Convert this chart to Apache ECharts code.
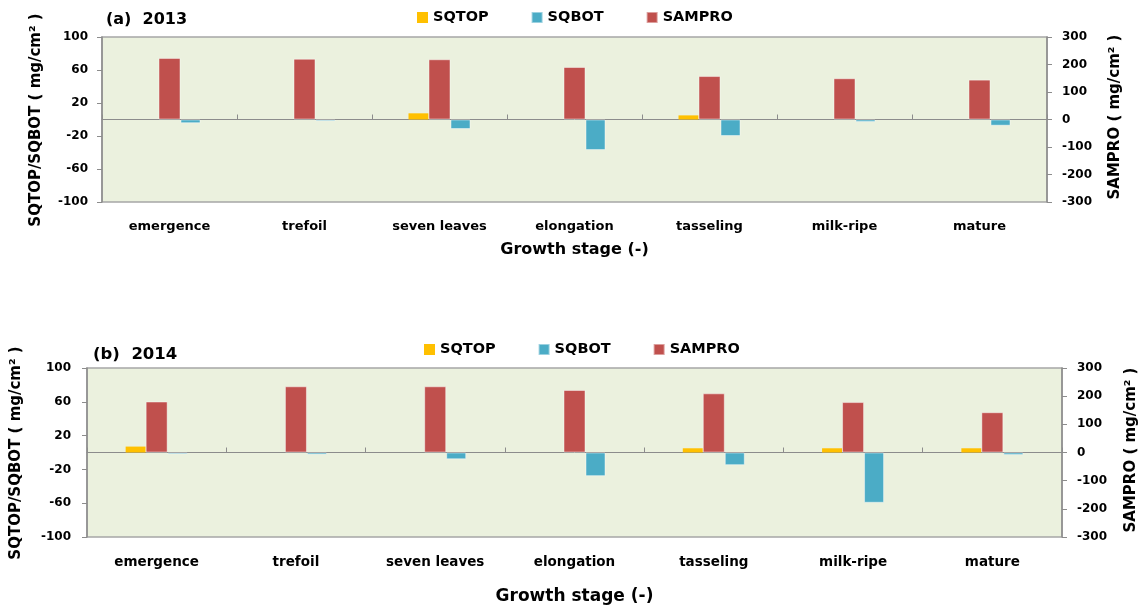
<!DOCTYPE html>
<html>
<head>
<meta charset="utf-8">
<script src="https://cdn.jsdelivr.net/npm/echarts@6/dist/echarts.min.js"></script>
<style>
  html, body { margin: 0; padding: 0; background: #ffffff; }
  #chart { width: 1145px; height: 610px; }
</style>
</head>
<body>
<div id="chart"></div>
<script>
// Growth stages of the crop
const stages = ['emergence', 'trefoil', 'seven leaves', 'elongation', 'tasseling', 'milk-ripe', 'mature'];

// 2013 (mg/cm2)
const sqtop2013  = [0, 0, 7.5, 0, 5, 0, 0];
const sqbot2013  = [-4.5, -2, -11.5, -37, -20, -3, -7.5];
const sampro2013 = [224, 221, 219, 191, 158, 150, 145];

// 2014 (mg/cm2)
const sqtop2014  = [7, 0, 0, 0, 5, 5, 5];
const sqbot2014  = [-2, -2.5, -8, -28, -15, -59.5, -3];
const sampro2014 = [181, 235, 235, 222, 210, 179, 143];

// Axis tick settings
const leftTicks  = { min: -100, max: 100, interval: 40 };
const rightTicks = { min: -300, max: 300, interval: 100 };

const FONT = 'DejaVu Sans';
const COLORS = { SQTOP: '#FFC000', SQBOT: '#4BACC6', SAMPRO: '#C0504D' };
const AXIS_GRAY = '#8c8c8c';

function zeroAxis(grid) {
  return {
    type: 'category', gridIndex: grid, data: stages,
    axisLine: { onZero: true, onZeroAxisIndex: grid * 2, lineStyle: { color: AXIS_GRAY, width: 1 } },
    axisTick: { show: true, inside: true, length: 5, interval: 0, lineStyle: { color: AXIS_GRAY } },
    axisLabel: { show: false },
    splitLine: { show: false }
  };
}
function labelAxis(grid, fontSize, margin, nameSize, nameGap) {
  return {
    type: 'category', gridIndex: grid, data: stages, position: 'bottom',
    axisLine: { show: false }, axisTick: { show: false },
    axisLabel: { interval: 0, margin: margin, color: '#000', fontFamily: FONT, fontWeight: 'bold', fontSize: fontSize },
    name: 'Growth stage (-)', nameLocation: 'middle', nameGap: nameGap,
    nameTextStyle: { color: '#000', fontFamily: FONT, fontWeight: 'bold', fontSize: nameSize }
  };
}
function valueAxis(grid, pos, ticks, margin) {
  return {
    type: 'value', gridIndex: grid, position: pos,
    min: ticks.min, max: ticks.max, interval: ticks.interval,
    axisLine: { show: true, lineStyle: { color: AXIS_GRAY, width: 1.5 } },
    axisTick: { show: true, inside: false, length: 5, lineStyle: { color: AXIS_GRAY } },
    axisLabel: { margin: margin, color: '#000', fontFamily: FONT, fontWeight: 'bold', fontSize: 12 },
    splitLine: { show: false }
  };
}
function barSeries(name, grid, yIdx, data, width) {
  const s = {
    name: name, type: 'bar', xAxisIndex: grid * 2, yAxisIndex: grid * 2 + yIdx,
    data: data, barWidth: width, barGap: '0%',
    itemStyle: { color: COLORS[name] }
  };
  if (name !== 'SQTOP') {
    s.itemStyle.borderColor = 'rgba(255,255,255,0.45)';
    s.itemStyle.borderWidth = 1;
  }
  return s;
}
function legend(left, top) {
  return {
    left: left, top: top, icon: 'rect', itemWidth: 11, itemHeight: 11, itemGap: 42,
    data: ['SQTOP', 'SQBOT', 'SAMPRO'],
    textStyle: { color: '#000', fontFamily: FONT, fontWeight: 'bold', fontSize: 14.5 }
  };
}
function vText(x, y, text, size) {
  return {
    type: 'text', x: x, y: y, rotation: Math.PI / 2,
    style: { text: text, fill: '#000', font: 'bold ' + size + 'px "' + FONT + '"', textAlign: 'center', textVerticalAlign: 'middle' }
  };
}

const chart = echarts.init(document.getElementById('chart'), null, { renderer: 'canvas' });
chart.setOption({
  animation: false,
  backgroundColor: '#ffffff',
  title: [
    { text: '(a)  2013', left: 101, top: 7, textStyle: { fontFamily: FONT, fontWeight: 'bold', fontSize: 16, color: '#000' } },
    { text: '(b)  2014', left: 88, top: 341, textStyle: { fontFamily: FONT, fontWeight: 'bold', fontSize: 16.5, color: '#000' } }
  ],
  legend: [legend(412, 5), legend(419, 337)],
  grid: [
    { left: 102, right: 98, top: 37, height: 165, show: true, backgroundColor: '#EBF1DE', borderColor: '#a6a6a6', borderWidth: 1.5 },
    { left: 87, right: 83, top: 368, height: 169, show: true, backgroundColor: '#EBF1DE', borderColor: '#a6a6a6', borderWidth: 1.5 }
  ],
  xAxis: [
    zeroAxis(0), labelAxis(0, 13, 18, 16, 40),
    zeroAxis(1), labelAxis(1, 13.5, 18, 17, 51)
  ],
  yAxis: [
    valueAxis(0, 'left', leftTicks, 14), valueAxis(0, 'right', rightTicks, 15),
    valueAxis(1, 'left', leftTicks, 16), valueAxis(1, 'right', rightTicks, 15)
  ],
  graphic: [
    vText(36, 120, 'SQTOP/SQBOT ( mg/cm² )', 15),
    vText(1115, 117, 'SAMPRO ( mg/cm² )', 15),
    vText(16, 453, 'SQTOP/SQBOT ( mg/cm² )', 15),
    vText(1131, 450, 'SAMPRO ( mg/cm² )', 15)
  ],
  series: [
    barSeries('SQTOP', 0, 0, sqtop2013, 20),
    barSeries('SAMPRO', 0, 1, sampro2013, 22),
    barSeries('SQBOT', 0, 0, sqbot2013, 20),
    barSeries('SQTOP', 1, 0, sqtop2014, 20),
    barSeries('SAMPRO', 1, 1, sampro2014, 22),
    barSeries('SQBOT', 1, 0, sqbot2014, 20)
  ]
});
</script>
</body>
</html>
